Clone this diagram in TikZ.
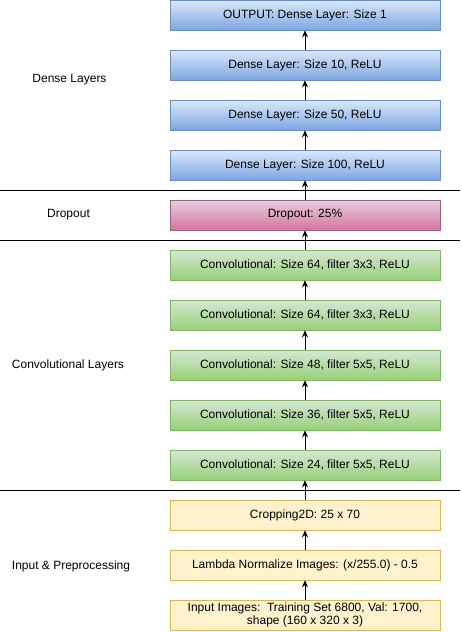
\documentclass[tikz,border=0pt]{standalone}
\usepackage{fontspec}
\setmainfont{Liberation Sans}
\usetikzlibrary{arrows.meta,shadings}
\definecolor{bluetop}{HTML}{DAE8FC}
\definecolor{bluebot}{HTML}{7EA6E0}
\definecolor{bluedraw}{HTML}{6C8EBF}
\definecolor{pinktop}{HTML}{E6D0DE}
\definecolor{pinkbot}{HTML}{D5739D}
\definecolor{pinkdraw}{HTML}{996185}
\definecolor{greentop}{HTML}{D5E8D4}
\definecolor{greenbot}{HTML}{97D077}
\definecolor{greendraw}{HTML}{82B366}
\definecolor{yellowfill}{HTML}{FFF2CC}
\definecolor{yellowdraw}{HTML}{D6B656}
\tikzset{
  layer/.style={rectangle, minimum width=270pt, minimum height=30pt, inner sep=1pt,
    align=center, font=\fontsize{12}{13.5}\selectfont, line width=0.6pt},
  bluebox/.style={layer, draw=bluedraw, top color=bluetop, bottom color=bluebot},
  pinkbox/.style={layer, draw=pinkdraw, top color=pinktop, bottom color=pinkbot},
  greenbox/.style={layer, draw=greendraw, top color=greentop, bottom color=greenbot},
  yellowbox/.style={layer, draw=yellowdraw, fill=yellowfill},
  sectlabel/.style={font=\fontsize{12}{13.5}\selectfont},
  flow/.style={-{Stealth[length=7pt,width=6pt]}, line width=0.8pt},
  divider/.style={line width=0.8pt}
}
\begin{document}
\begin{tikzpicture}[x=1pt,y=-1pt]
\useasboundingbox (0,0) rectangle (462,632);
% boxes
\node[bluebox] (out) at (305,15) {OUTPUT: Dense Layer: Size 1};
\node[bluebox] (d10) at (305,65) {Dense Layer: Size 10, ReLU};
\node[bluebox] (d50) at (305,115) {Dense Layer: Size 50, ReLU};
\node[bluebox] (d100) at (305,165) {Dense Layer: Size 100, ReLU};
\node[pinkbox] (drop) at (305,215) {Dropout: 25\%};
\node[greenbox] (c64b) at (305,265) {Convolutional: Size 64, filter 3x3, ReLU};
\node[greenbox] (c64a) at (305,315) {Convolutional: Size 64, filter 3x3, ReLU};
\node[greenbox] (c48) at (305,365) {Convolutional: Size 48, filter 5x5, ReLU};
\node[greenbox] (c36) at (305,415) {Convolutional: Size 36, filter 5x5, ReLU};
\node[greenbox] (c24) at (305,465) {Convolutional: Size 24, filter 5x5, ReLU};
\node[yellowbox] (crop) at (305,515) {Cropping2D: 25 x 70};
\node[yellowbox] (lam) at (305,565) {Lambda Normalize Images: (x/255.0) - 0.5};
\node[yellowbox, align=center] (inp) at (305,615) {Input Images:\ \ Training Set 6800, Val: 1700,\\shape (160 x 320 x 3)};
% dividers
\coordinate (l1a) at (0,190.5); \coordinate (l1b) at (460,190.5);
\coordinate (l2a) at (0,240.5); \coordinate (l2b) at (460,240.5);
\coordinate (l3a) at (0,490.5); \coordinate (l3b) at (460,490.5);
\draw[divider] (l1a) -- (l1b);
\draw[divider] (l2a) -- (l2b);
\draw[divider] (l3a) -- (l3b);
% arrows
\draw[flow] (d10.north) -- (out.south);
\draw[flow] (d50.north) -- (d10.south);
\draw[flow] (d100.north) -- (d50.south);
\draw[flow] (drop.north) -- (d100.south);
\draw[flow] (c64b.north) -- (drop.south);
\draw[flow] (c64a.north) -- (c64b.south);
\draw[flow] (c48.north) -- (c64a.south);
\draw[flow] (c36.north) -- (c48.south);
\draw[flow] (c24.north) -- (c36.south);
\draw[flow] (crop.north) -- (c24.south);
\draw[flow] (lam.north) -- (crop.south);
\draw[flow] (inp.north) -- (lam.south);
% section labels
\node[sectlabel] (lbdense) at (69.5,80) {Dense Layers};
\node[sectlabel] (lbdrop) at (68.5,215) {Dropout};
\node[sectlabel] (lbconv) at (68,365) {Convolutional Layers};
\node[sectlabel] (lbinp) at (71,566) {Input \& Preprocessing};
\end{tikzpicture}
\end{document}
